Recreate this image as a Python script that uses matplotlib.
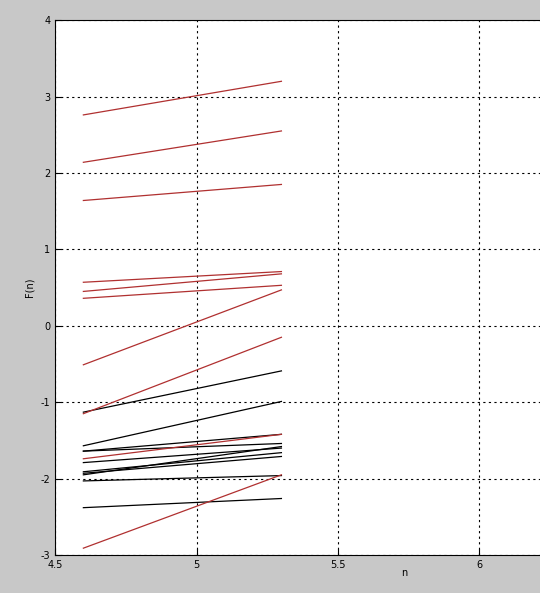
import numpy as np
import matplotlib.pyplot as plt

plt.rcParams['axes.unicode_minus'] = False

# Werte der Linien (Start bei n=4.6, Ende bei n=5.3)
n_start, n_end = 4.6, 5.3
red_start = [2.76, 2.14, 1.64, 0.57, 0.45, 0.36, -0.51, -1.15, -1.74, -2.91]
red_end = [3.20, 2.55, 1.85, 0.71, 0.68, 0.53, 0.47, -0.15, -1.42, -1.95]
black_start = [-1.13, -1.57, -1.64, -1.64, -1.79, -1.91, -1.93, -1.95, -2.03, -2.38]
black_end = [-0.59, -0.99, -1.42, -1.54, -1.60, -1.66, -1.71, -1.58, -1.96, -2.26]

fig = plt.figure(figsize=(5.4, 5.93), dpi=100)
fig.patch.set_facecolor('#c8c8c8')
ax = fig.add_axes([0.102, 0.064, 0.898, 0.902])

for s, e in zip(black_start, black_end):
    ax.plot([n_start, n_end], [s, e], color='black', lw=0.9)
for s, e in zip(red_start, red_end):
    ax.plot([n_start, n_end], [s, e], color='#b03030', lw=0.9)

ax.set_xlim(4.5, 6.214)
ax.set_ylim(-3, 4)
ax.set_xticks([4.5, 5, 5.5, 6])
ax.set_xticklabels(['4.5', '5', '5.5', '6'])
ax.set_yticks(range(-3, 5))
ax.grid(True, color='black', linestyle=(0, (2, 3)), lw=0.8)
ax.tick_params(direction='in', labelsize=7, length=4)
ax.spines['right'].set_visible(False)
ax.set_xlabel('n', fontsize=7, labelpad=2)
ax.xaxis.set_label_coords(0.72, -0.025)
ax.set_ylabel('F(n)', fontsize=7)

fig.savefig('out.png', facecolor=fig.get_facecolor())
